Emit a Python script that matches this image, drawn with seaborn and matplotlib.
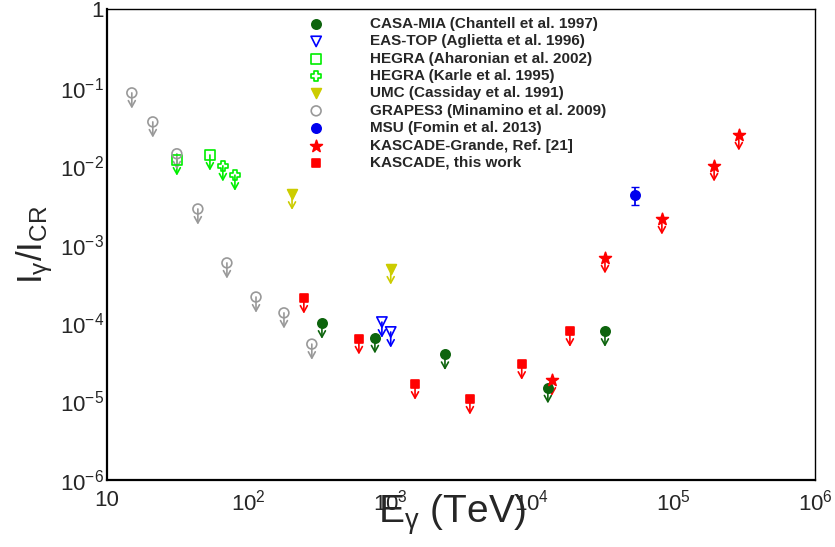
import numpy as np
import matplotlib
matplotlib.use("Agg")
import matplotlib.pyplot as plt
from matplotlib.ticker import LogLocator, NullFormatter
import seaborn as sns

# upper limits on I_gamma / I_CR, energies in TeV
casa_e = [330, 781, 2440, 13000, 32900]
casa_r = [1.0e-4, 6.5e-5, 4.0e-5, 1.5e-5, 7.9e-5]

eastop_e = [875, 1010]
eastop_r = [1.03e-4, 7.7e-5]

hegra02_e = [31.2, 53.4]
hegra02_r = [0.0120, 0.0139]

hegra95_e = [65.9, 80.2]
hegra95_r = [0.0101, 0.0077]

umc_e = [203, 1010]
umc_r = [4.4e-3, 4.9e-4]

grapes_e = [15.0, 21.1, 31.2, 43.9, 70.4, 113, 178, 280]
grapes_r = [0.086, 0.0367, 0.0144, 2.85e-3, 5.85e-4, 2.15e-4, 1.35e-4, 5.4e-5]

# MSU is a measurement with error bar, not a limit
msu_e = [53500]
msu_r = [4.3e-3]
msu_lo = [3.2e-3]
msu_hi = [5.5e-3]

kg_e = [13900, 32900, 83000, 194000, 290000]
kg_r = [1.88e-5, 6.8e-4, 2.13e-3, 0.0101, 0.0251]

kas_e = [246, 602, 1500, 3660, 8500, 18600]
kas_r = [2.09e-4, 6.3e-5, 1.67e-5, 1.08e-5, 3.0e-5, 7.9e-5]

x_ticks = [10, 1e2, 1e3, 1e4, 1e5, 1e6]
x_labels = ["10", "$10^{2}$", "$10^{3}$", "$10^{4}$", "$10^{5}$", "$10^{6}$"]
y_ticks = [1e-6, 1e-5, 1e-4, 1e-3, 1e-2, 1e-1, 1]
y_labels = ["$10^{-6}$", "$10^{-5}$", "$10^{-4}$", "$10^{-3}$", "$10^{-2}$", "$10^{-1}$", "1"]

# label, energies, ratios, marker, colour, filled, size, upper limit
series = [
    ("CASA-MIA (Chantell et al. 1997)", casa_e, casa_r, "o", "#0d640d", True, 45, True),
    ("EAS-TOP (Aglietta et al. 1996)", eastop_e, eastop_r, "v", "#0000ff", False, 55, True),
    ("HEGRA (Aharonian et al. 2002)", hegra02_e, hegra02_r, "s", "#00ee00", False, 50, True),
    ("HEGRA (Karle et al. 1995)", hegra95_e, hegra95_r, "P", "#00ee00", False, 55, True),
    ("UMC (Cassiday et al. 1991)", umc_e, umc_r, "v", "#cccc00", True, 50, True),
    ("GRAPES3 (Minamino et al. 2009)", grapes_e, grapes_r, "o", "#999999", False, 50, True),
    ("MSU (Fomin et al. 2013)", msu_e, msu_r, "o", "#0000ee", True, 45, False),
    ("KASCADE-Grande, Ref. [21]", kg_e, kg_r, "*", "#ff0000", True, 80, True),
    ("KASCADE, this work", kas_e, kas_r, "s", "#ff0000", True, 40, True),
]

sns.set_style("white")
plt.rcParams["font.family"] = ["Liberation Sans", "DejaVu Sans"]
plt.rcParams["mathtext.fontset"] = "custom"
plt.rcParams["mathtext.rm"] = "Liberation Sans"
plt.rcParams["mathtext.it"] = "Liberation Sans:italic"
plt.rcParams["mathtext.bf"] = "Liberation Sans:bold"

fig, ax = plt.subplots(figsize=(8.35, 5.47), dpi=100)
fig.subplots_adjust(left=0.128, right=0.976, bottom=0.1225, top=0.983)
ax.set_xscale("log")
ax.set_yscale("log")

drop = 10 ** -0.2  # arrow length, in decades
for label, e, r, mk, col, filled, size, limit in series:
    if limit:
        for xi, yi in zip(e, r):
            ax.annotate("", xy=(xi, yi * drop), xytext=(xi, yi),
                        arrowprops=dict(arrowstyle="->,head_length=0.45,head_width=0.25",
                                        color=col, lw=1.2, shrinkA=0, shrinkB=0),
                        zorder=2)
    sns.scatterplot(x=e, y=r, ax=ax, marker=mk, s=size, color=col,
                    facecolor=col if filled else "none", edgecolor=col,
                    linewidth=1.2, label=label, zorder=3)

ax.errorbar(msu_e, msu_r,
            yerr=[np.array(msu_r) - np.array(msu_lo), np.array(msu_hi) - np.array(msu_r)],
            fmt="none", ecolor="#0000ee", elinewidth=1.3, capsize=3, zorder=2)

ax.set_xlim(10, 1e6)
ax.set_ylim(1e-6, 1)
ax.set_xticks(x_ticks, x_labels)
ax.set_yticks(y_ticks, y_labels)
ax.xaxis.set_minor_locator(LogLocator(base=10, subs=np.arange(2, 10), numticks=50))
ax.yaxis.set_minor_locator(LogLocator(base=10, subs=np.arange(2, 10), numticks=50))
ax.xaxis.set_minor_formatter(NullFormatter())
ax.yaxis.set_minor_formatter(NullFormatter())
ax.tick_params(which="both", direction="in", top=False, right=False, color="black", width=1)
ax.tick_params(axis="x", which="major", length=9.5, pad=7, labelsize=16)
ax.tick_params(axis="x", which="minor", length=4.8)
ax.tick_params(axis="y", which="major", length=15.8, pad=2, labelsize=16)
ax.tick_params(axis="y", which="minor", length=7.2)

for side in ["left", "bottom"]:
    ax.spines[side].set_linewidth(1.6)
for side in ["top", "right"]:
    ax.spines[side].set_linewidth(1.0)
for sp in ax.spines.values():
    sp.set_color("black")

ax.set_xlabel(r"E$_{\mathrm{\gamma}}$ (TeV)", fontsize=28)
ax.xaxis.set_label_coords(0.488, -0.027)
ax.set_ylabel(r"I$_{\mathrm{\gamma}}$/I$_{\mathrm{CR}}$", fontsize=25)
ax.yaxis.set_label_coords(-0.073, 0.5)

ax.legend(loc="upper left", bbox_to_anchor=(0.353, 0.980), bbox_transform=fig.transFigure,
          frameon=False, prop={"weight": "bold", "size": 11}, handletextpad=2.5,
          labelspacing=0.22, borderaxespad=0, handlelength=2, scatterpoints=1)

fig.savefig("out.png", dpi=100)
